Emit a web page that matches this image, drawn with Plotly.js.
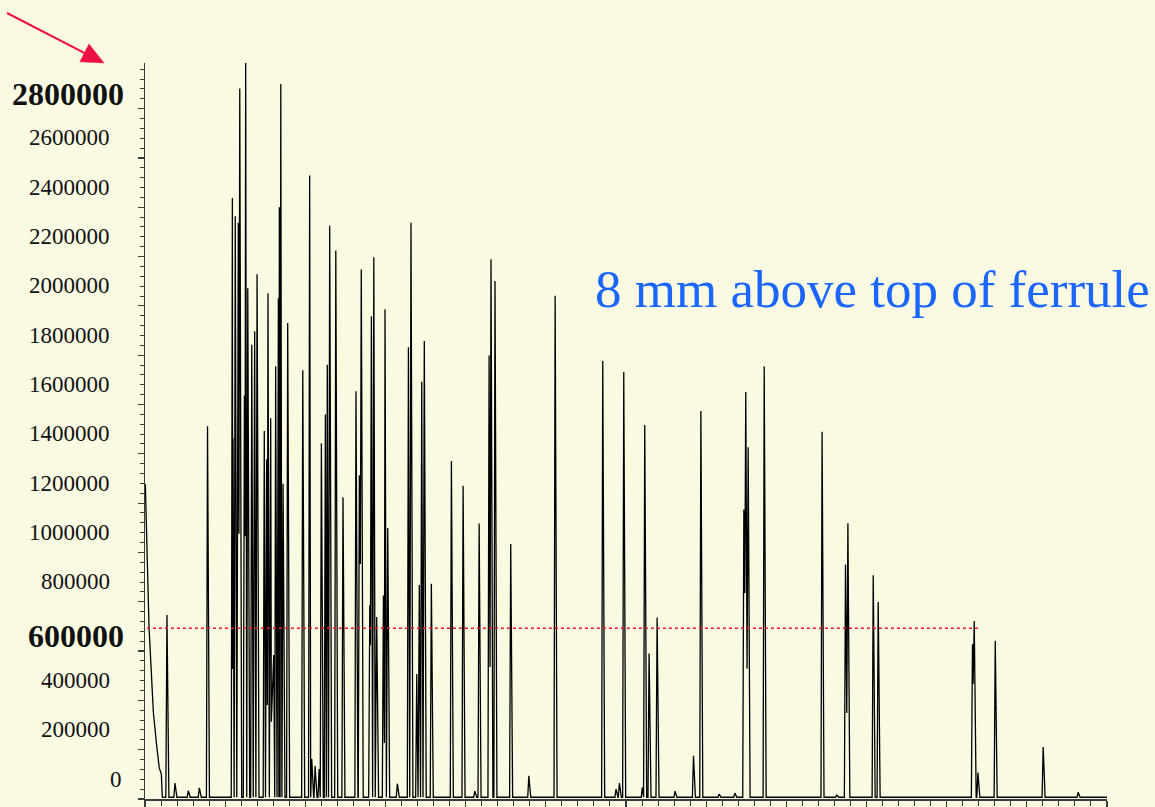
<!DOCTYPE html>
<html>
<head>
<meta charset="utf-8">
<script src="https://cdn.plot.ly/plotly-3.0.1.min.js"></script>
<style>html,body{margin:0;padding:0;background:#fafae3;}</style>
</head>
<body>
<div id="chart" style="width:1155px;height:807px;"></div>
<script>
// ---- data ----
const solventTimes  = [0.02, 0.11, 0.17, 0.25, 0.42, 0.52, 0.73, 0.89, 1.02, 1.08];
const solventValues = [1277000, 989000, 900000, 698000, 454000, 353000, 215000, 126000, 101000, 8000];

const peakTimes = [
  1.37, 1.87, 2.70, 3.39, 3.90,
  5.45, 5.49, 5.63, 5.82, 5.91, 6.20, 6.28, 6.41, 6.66, 6.84, 6.99,
  7.44, 7.59, 7.67, 7.84, 8.03, 8.15, 8.32, 8.38, 8.47, 8.61, 8.90,
  9.84, 10.27, 10.40, 10.61, 10.86, 11.00, 11.25, 11.37, 11.52, 11.90, 12.35,
  13.16, 13.37, 13.49, 14.02, 14.12, 14.27, 14.45, 14.87, 14.97, 15.14, 15.74,
  16.43, 16.59, 16.95, 17.11, 17.26, 17.42, 17.86,
  19.11, 19.84, 20.57, 20.84, 21.46, 21.58, 21.83, 22.81, 23.94, 25.58,
  28.55, 29.38, 29.59, 29.86, 31.02, 31.17, 31.44, 31.94, 33.06,
  34.21, 34.67, 35.81, 36.79, 37.35, 37.47, 37.62, 38.62,
  42.23, 43.15, 43.69, 43.84, 45.42, 45.73,
  51.61, 51.72, 51.95, 53.03, 56.02, 58.20
];
const peakHeights = [
  746000, 65000, 34000, 45000, 1512000,
  2437000, 1463000, 2363000, 2337000, 2882000, 1636000, 2990000, 2071000, 1842000, 1897000, 2128000,
  1492000, 1378000, 2051000, 1544000, 584000, 1755000, 2031000, 2400000, 2900000, 1279000, 1931000,
  1739000, 2529000, 162000, 134000, 122000, 1443000, 1559000, 1761000, 2325000, 2225000, 1224000,
  1654000, 1313000, 2148000, 786000, 1958000, 2197000, 738000, 825000, 1986000, 1099000, 62000,
  1832000, 2337000, 507000, 868000, 1692000, 1858000, 873000,
  1371000, 1270000, 32000, 1117000, 1799000, 2189000, 2101000, 1034000, 94000, 2041000,
  1776000, 40000, 65000, 1732000, 47000, 1517000, 590000, 736000, 32000,
  175000, 1574000, 20000, 24000, 1174000, 1651000, 1427000, 1755000,
  1489000, 16000, 951000, 1118000, 907000, 799000,
  628000, 722000, 107000, 642000, 211000, 27000
];
const valleyTimes  = [5.47, 5.86, 6.24, 7.63, 7.88, 13.43, 14.06, 14.93, 21.52, 37.41, 37.55, 43.77, 51.65];
const valleyValues = [527000, 1076000, 1066000, 381000, 313000, 953000, 624000, 227000, 535000, 835000, 528000, 349000, 466000];

const baselineLevel = 7000;
const runEnd = 60;
const thresholdLevel = 693000;
const thresholdStart = 0.12;
const thresholdEnd = 52.1;

const yTickValues = [0, 200000, 400000, 600000, 800000, 1000000, 1200000, 1400000,
                     1600000, 1800000, 2000000, 2200000, 2400000, 2600000, 2800000];
const yTickLabels = ['0', '200000', '400000', '600000', '800000', '1000000', '1200000', '1400000',
                     '1600000', '1800000', '2000000', '2200000', '2400000', '2600000', '2800000'];
const boldLabels = ['600000', '2800000'];
const noteText = '8 mm above top of ferrule';

// ---- build the trace ----
const wL = 0.07, wR = 0.12;
const xs = solventTimes.slice(), ys = solventValues.slice();
const order = peakTimes.map((t, i) => i).sort((a, b) => peakTimes[a] - peakTimes[b]);
let lastApex = null;
for (const i of order) {
  const t = peakTimes[i], h = peakHeights[i];
  const vi = lastApex === null ? -1 : valleyTimes.findIndex(v => v > lastApex && v < t);
  if (vi >= 0) {
    xs.push(valleyTimes[vi]); ys.push(valleyValues[vi]);
  } else if (lastApex !== null) {
    const r = lastApex + wR, l = t - wL;
    if (r < l) { xs.push(r, l); ys.push(baselineLevel, baselineLevel); }
    else { xs.push((lastApex + t) / 2); ys.push(baselineLevel); }
  } else {
    xs.push(t - wL); ys.push(baselineLevel);
  }
  xs.push(t); ys.push(h);
  lastApex = t;
}
xs.push(lastApex + wR, runEnd); ys.push(baselineLevel, baselineLevel);

// ---- layout geometry ----
const W = 1155, H = 807;
const M = {l: 145, r: 48, t: 63, b: 8};
const pw = W - M.l - M.r, ph = H - M.t - M.b;
const px = x => (x - M.l) / pw;
const py = y => (H - M.b - y) / ph;

const axisColor = '#3a3a3a';
const serif = 'Liberation Serif, Times New Roman, serif';

const annotations = yTickLabels.map((lab, i) => {
  const bold = boldLabels.includes(lab);
  const right = bold ? 126 : (lab === '0' ? 124 : 112);
  return {
    xref: 'paper', yref: 'y', x: px(right), y: yTickValues[i],
    xanchor: 'right', yanchor: 'middle', yshift: bold ? 15 : 20,
    text: bold ? '<b>' + lab + '</b>' : lab, showarrow: false,
    font: {family: serif, size: bold ? 32 : 23, color: '#111'}
  };
});
annotations.push({
  xref: 'paper', yref: 'paper', x: px(593), y: py(289),
  xanchor: 'left', yanchor: 'middle', showarrow: false,
  text: noteText, font: {family: serif, size: 53, color: '#1a66ff'}
});

// arrow (tail -> tip) in pixel space converted to paper
const tail = [7, 13], tip = [104, 63];
const dx = tip[0] - tail[0], dy = tip[1] - tail[1];
const len = Math.hypot(dx, dy), ux = dx / len, uy = dy / len;
const headL = 22, headW = 10;
const base = [tip[0] - ux * headL, tip[1] - uy * headL];
const v1 = [base[0] - uy * headW, base[1] + ux * headW];
const v2 = [base[0] + uy * headW, base[1] - ux * headW];
const arrowColor = '#ee1140';

const shapes = [
  {type: 'line', xref: 'x', yref: 'y', x0: thresholdStart, x1: thresholdEnd,
   y0: thresholdLevel, y1: thresholdLevel,
   line: {color: '#e8142e', width: 1.5, dash: 'dot'}},
  {type: 'line', xref: 'paper', yref: 'paper',
   x0: px(tail[0]), y0: py(tail[1]), x1: px(base[0] + ux * 2), y1: py(base[1] + uy * 2),
   line: {color: arrowColor, width: 2}},
  {type: 'path', xref: 'paper', yref: 'paper',
   path: 'M' + px(tip[0]) + ',' + py(tip[1]) + ' L' + px(v1[0]) + ',' + py(v1[1]) +
         ' L' + px(v2[0]) + ',' + py(v2[1]) + ' Z',
   fillcolor: arrowColor, line: {color: arrowColor, width: 0.5}}
];

const trace = {
  type: 'scatter', mode: 'lines', x: xs, y: ys,
  line: {color: '#000', width: 1.3}, hoverinfo: 'skip'
};

const layout = {
  width: W, height: H,
  margin: {l: M.l, r: M.r, t: M.t, b: M.b, pad: 0},
  paper_bgcolor: '#fafae3', plot_bgcolor: '#fafae3',
  showlegend: false,
  xaxis: {
    range: [0, runEnd], showgrid: false, zeroline: false,
    showline: true, linecolor: axisColor, linewidth: 1.5,
    ticks: 'outside', tick0: 0, dtick: 5, ticklen: 8, tickwidth: 1.2, tickcolor: axisColor,
    showticklabels: false,
    minor: {ticks: 'outside', tick0: 0, dtick: 1, ticklen: 5, tickwidth: 1, tickcolor: axisColor, showgrid: false}
  },
  yaxis: {
    range: [0, 2985000], showgrid: false, zeroline: false,
    showline: true, linecolor: axisColor, linewidth: 1.5,
    ticks: 'outside', tick0: 0, dtick: 200000, ticklen: 6, tickwidth: 1.2, tickcolor: axisColor,
    showticklabels: false,
    minor: {ticks: 'outside', tick0: 0, dtick: 40000, ticklen: 4, tickwidth: 1, tickcolor: axisColor, showgrid: false}
  },
  annotations: annotations,
  shapes: shapes
};

Plotly.newPlot('chart', [trace], layout, {displayModeBar: false, staticPlot: true});
</script>
</body>
</html>
